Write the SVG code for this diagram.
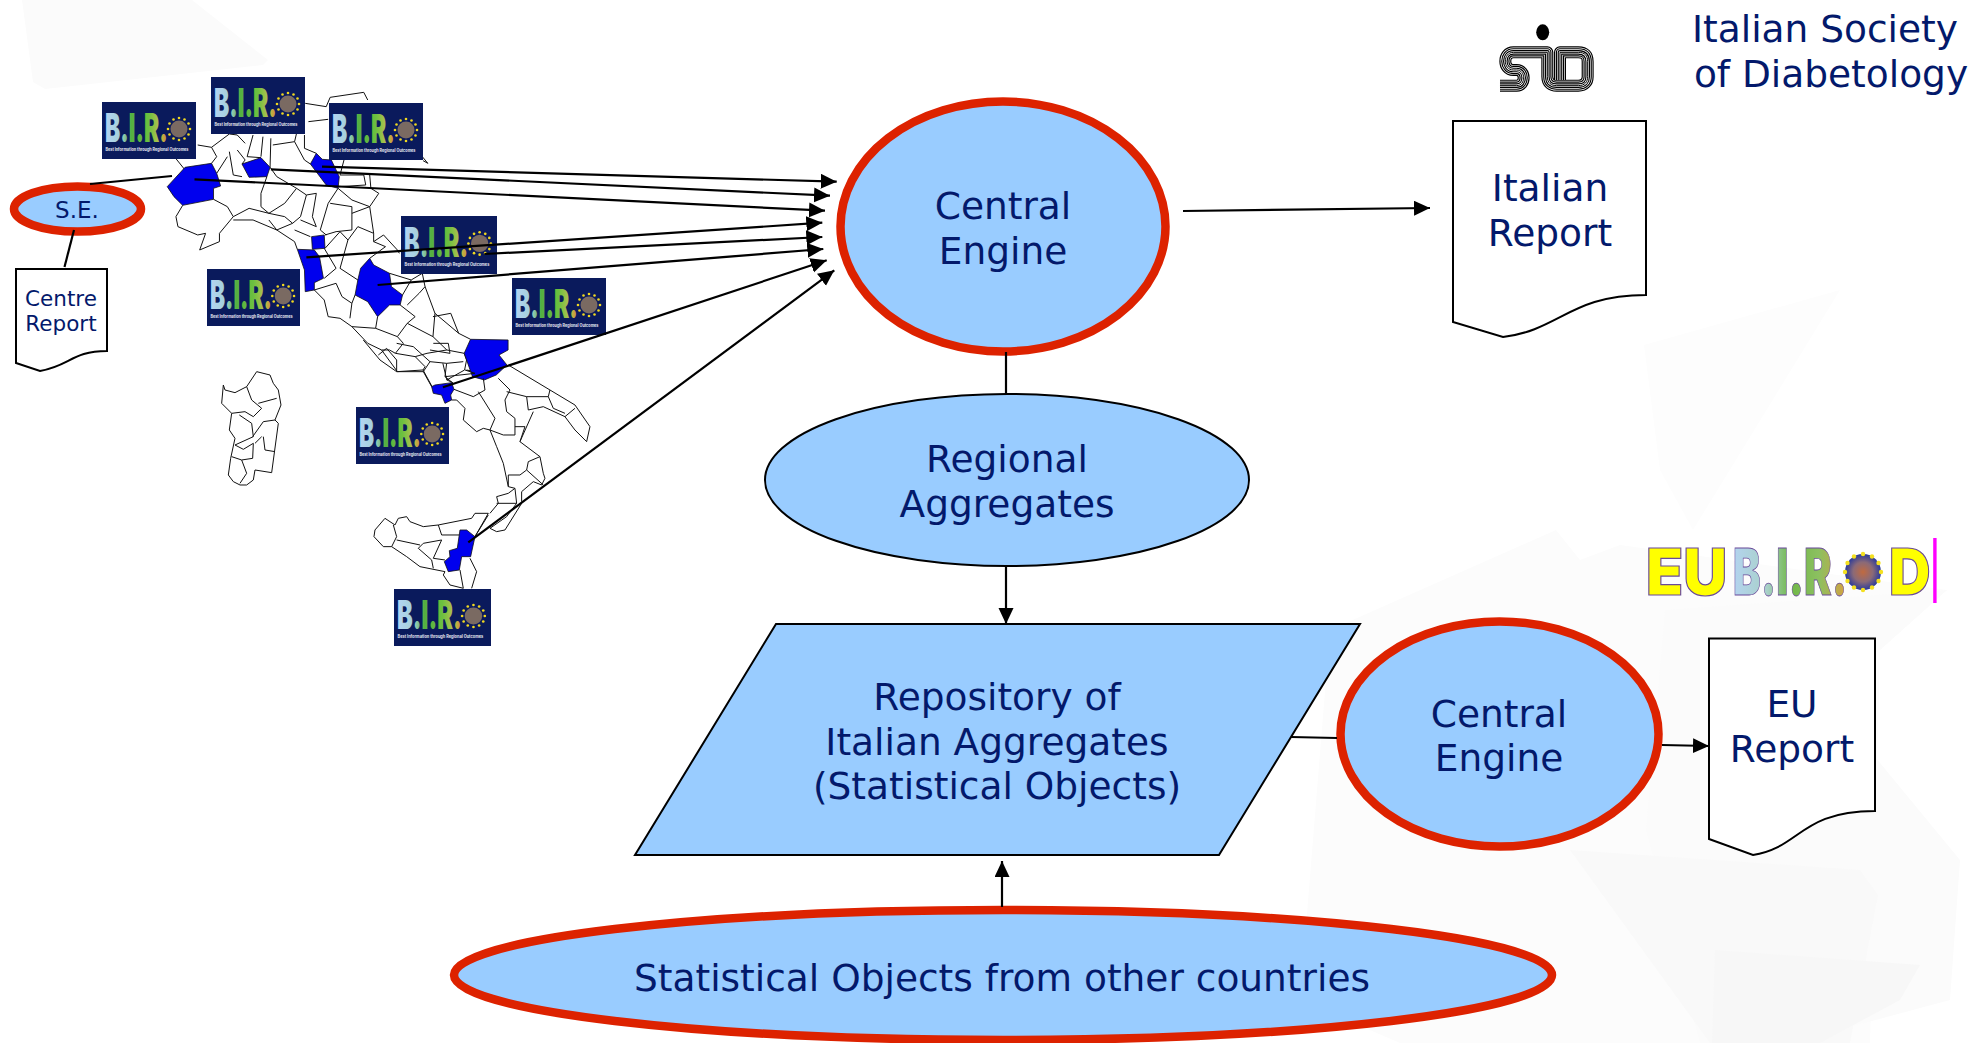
<svg xmlns="http://www.w3.org/2000/svg" width="1970" height="1043" viewBox="0 0 1970 1043">
<style>
text{font-family:"DejaVu Sans",sans-serif;fill:#03196b;text-anchor:middle}
.t37{font-size:37.5px}
.node{fill:#99ccff;stroke:#000;stroke-width:2}
.hot{fill:#99ccff;stroke:#dd2200;stroke-width:8.5}
.doc{fill:#fff;stroke:#000;stroke-width:2}
.conn{fill:none;stroke:#000;stroke-width:2.2}
.arr{marker-end:url(#ah)}
.bd{fill:none;stroke:#111;stroke-width:1;stroke-linejoin:round;vector-effect:non-scaling-stroke}
.rg{fill:#0000ee;stroke:#111;stroke-width:.8;vector-effect:non-scaling-stroke}
.logo{font-family:Inter,"Liberation Sans",Arial,sans-serif;font-weight:900;text-anchor:start}
.eu{fill:#ffff00;stroke:#6a4a9a;stroke-width:1.2}
</style>
<defs>
<marker id="ah" markerUnits="userSpaceOnUse" markerWidth="18" markerHeight="16" refX="16" refY="7.5" orient="auto"><path d="M0 0L16 7.5L0 15Z" fill="#000"/></marker>
<linearGradient id="bg1" gradientUnits="userSpaceOnUse" x1="0" y1="0" x2="95" y2="0"><stop offset="0" stop-color="#b4d4f4"/><stop offset=".25" stop-color="#a4d0d8"/><stop offset=".42" stop-color="#54b040"/><stop offset=".7" stop-color="#6cc040"/><stop offset=".87" stop-color="#b4c050"/><stop offset="1" stop-color="#d09030"/></linearGradient>
<linearGradient id="bg2" gradientUnits="userSpaceOnUse" x1="0" y1="0" x2="168" y2="0"><stop offset="0" stop-color="#b4d4f0"/><stop offset=".3" stop-color="#a8d0c8"/><stop offset=".5" stop-color="#70b848"/><stop offset=".75" stop-color="#8cc060"/><stop offset="1" stop-color="#d8a040"/></linearGradient>
<radialGradient id="core"><stop offset="0" stop-color="#c06a40"/><stop offset=".55" stop-color="#8a6a78"/><stop offset="1" stop-color="#2a3a9a"/></radialGradient>
<path id="sidp" d="M30 212H80C108 212 108 165 80 165H70C38 165 38 112 70 112H172V185C172 205 185 212 200 212H265C285 212 293 200 293 185V140C293 122 285 112 265 112H210V195"/>
<symbol id="biro" viewBox="0 0 94 57" preserveAspectRatio="none">
<rect width="94" height="57" fill="#0a1a5c"/>
<text class="logo" transform="translate(3,40) scale(.66,1)" font-size="40" textLength="95" lengthAdjust="spacingAndGlyphs" style="fill:url(#bg1)">B.I.R.</text>
<circle cx="77" cy="27" r="8.5" fill="#7a6a62"/>
<g fill="#f0d820">
<circle cx="77" cy="16" r="1.3"/><circle cx="82.5" cy="17.5" r="1.3"/><circle cx="86.5" cy="21.5" r="1.3"/><circle cx="88" cy="27" r="1.3"/><circle cx="86.5" cy="32.5" r="1.3"/><circle cx="82.5" cy="36.5" r="1.3"/><circle cx="77" cy="38" r="1.3"/><circle cx="71.5" cy="36.5" r="1.3"/><circle cx="67.5" cy="32.5" r="1.3"/><circle cx="66" cy="27" r="1.3"/><circle cx="67.5" cy="21.5" r="1.3"/><circle cx="71.5" cy="17.5" r="1.3"/>
</g>
<text class="logo" x="3.5" y="49" font-size="4.4" textLength="83" lengthAdjust="spacingAndGlyphs" style="fill:#e6e8f2;font-weight:700">Best Information through Regional Outcomes</text>
</symbol>
</defs>
<rect width="1970" height="1043" fill="#fff"/>
<g id="background">
<path d="M22 0H192L268 60L263 65L45 89L33 82Z" fill="#fbfbfb"/>
<path d="M1644 345L1840 290L1693 530L1660 470Z" fill="#fdfdfd"/>
<path d="M1330 630L1556 530L1580 560L1620 545L1947 590L1880 650L1870 1043H1400L1300 1000Z" fill="#fcfcfc"/>
<path d="M1646 830L1665 610L1947 590L1880 650L1820 690L1960 860L1950 1000L1790 1043H1700Z" fill="#fbfbfb"/>
<path d="M1570 850L1860 870L1878 895L1850 1043H1710Z" fill="#f9f9f9"/>
<path d="M1715 950L1920 965L1900 1000L1820 1043H1712Z" fill="#f7f7f7"/>
</g>
<g id="map">
<g transform="translate(0,60) scale(0.3954,0.3333)">
<path class="bd" d="M772 130L825 140L835 112L920 97L930 120M780 185L830 178M770 225L770 265L800 280M500 255L535 262L580 222L600 225L620 250M535 262L548 290L535 310M445 296L468 330M575 290L548 340M580 275L590 345L612 350M600 270L620 300L612 312M640 225L625 290L660 293M665 230L660 290M685 235L683 322M750 220L745 245L690 255M745 245L770 300L785 312M870 300L860 345L920 345L925 375L858 380M935 345L938 385L958 400L935 440L890 420L855 385M1068 290L1082 310L1070 302M683 322L700 350L750 385L775 405L800 400M675 350L660 400L660 440L680 460L720 430L750 385M775 405L760 470L740 490L720 470L680 460M800 400L790 470L800 500L760 480M855 385L830 430L810 510L825 525M835 430L890 440L890 510L850 515L822 525M890 460L935 440L945 520L905 500L880 540L860 515M540 418L575 440L590 470L630 445L680 460M462 436L445 470L450 500L500 525L520 520L505 570L555 545L555 520L590 470M590 480L640 480L700 510L745 545L752 568M680 480L700 510L740 490M745 510L785 530M822 565L860 515M820 565L850 625L820 655M860 625L905 660M880 540L860 625M945 520L945 545L970 525L1005 570L1010 580M945 545L975 560L935 595M985 640L1040 660L1068 640L1075 680L1100 760L1160 820L1190 838M1040 660L1018 705M1030 735L1060 700L1075 680M1012 735L1050 770L1030 790L1095 830L1100 760M1095 770L1140 760L1160 820M1095 830L1130 870L1174 880M795 690L820 720L830 770L860 775L890 800L930 850L965 870L1005 935L1070 930L1095 985M795 690L850 670L865 710L890 730L885 775M898 705L890 730M955 770L950 805L890 800M950 805L1005 830L1030 790M1005 830L1020 850L1000 880L1050 890L1080 880L1130 870M965 870L985 870L1000 880M1050 890L1075 920L1070 930M1120 910L1130 960L1145 968M1130 960L1175 930L1180 900L1174 880M1180 930L1200 935L1195 950"/>
<path class="rg" d="M423 380L468 322L535 310L548 340L558 378L540 385L540 418L462 436L440 410Z"/>
<path class="rg" d="M612 312L660 293L683 322L675 350L630 352Z"/>
<path class="rg" d="M785 312L800 280L815 298L838 300L858 350L855 385L825 375Z"/>
<path class="rg" d="M788 530L820 525L822 565L790 568Z"/>
<path class="rg" d="M752 568L795 570L808 590L818 655L795 668L795 690L772 695L770 630Z"/>
<path class="rg" d="M935 595L945 615L985 640L990 680L1018 705L1012 735L985 735L955 770L930 725L898 705L905 660L912 625Z"/>
<path class="rg" d="M1190 838L1285 840L1285 870L1262 885L1282 915L1255 945L1225 960L1195 950L1174 880Z"/>
</g>
<g transform="translate(200,340) scale(0.3333)">
<path class="bd" d="M925 75L1050 150L1125 195L1170 260L1160 305L1125 270L1095 230L1125 205M895 115L930 150L915 180L920 215L945 235L945 285L910 285L870 270L850 265L830 275L790 240L795 205L770 180L755 180M762 148L820 170L855 150L850 115M835 155L885 235L870 270M920 155L980 170L1045 170L1050 150M980 170L985 210L1030 200L1095 230M1045 170L1060 205L1095 220M1000 215L960 305L1020 350L1030 400L1035 415L1025 435L1000 425L965 455L965 485M945 260L975 260L960 305M870 270L890 320L910 370L925 440L945 445L950 490L920 530L870 565L890 575L915 570L965 490M925 405L960 405L980 390L1030 435M980 390L985 365L1020 350M945 445L925 460L890 470L895 490L870 520M925 440L925 405M890 490L950 490M490 0L540 60L590 95L670 95L690 65L740 70L790 65M670 95L695 140M740 70L735 110L760 130M795 90L825 100L735 110M590 10L640 20L690 65M535 45L560 25L590 60L590 95M690 30L750 40L745 10L700 10"/>
<path class="bd" d="M555 535L585 555L595 535L620 530L630 545L670 560L715 555L815 535L825 520L865 520L825 590M715 555L725 585L780 585M555 535L525 570L522 590L550 620L575 620L590 590L580 555M575 620L620 650L660 680L735 695L730 705L750 735L790 745L780 690M725 600L670 610L655 625L695 660L700 685M725 600L700 655L735 660M590 600L660 615M810 655L830 695L815 745M865 525L825 590"/>
<path class="bd" d="M70 135L65 190L95 220L88 270L105 295L92 355L85 405L100 425L120 435L140 435L160 420L165 390L215 398L235 250L225 240L243 195L235 150L220 130L210 105L170 95L140 140L105 158L75 150ZM140 140L155 180L185 205L160 230L135 215L95 220M175 190L230 175M118 225L155 250L160 290L105 315L130 328L160 310L158 355L125 360L95 350M158 290L190 245L225 240M190 290L195 330L225 335M165 310L185 290M125 360L140 400L120 430"/>
<path class="rg" d="M695 140L705 135L755 128L762 148L752 165L755 180L735 190L725 165L700 160Z"/>
<path class="rg" d="M780 570L800 570L825 590L812 650L785 650L778 690L745 695L733 665L750 650L748 632L772 625Z"/>
</g>
</g>
<g id="biro-logos">
<use href="#biro" x="102" y="102" width="94" height="57"/>
<use href="#biro" x="211" y="77" width="94" height="57"/>
<use href="#biro" x="329" y="103" width="94" height="57"/>
<use href="#biro" x="401" y="216" width="96" height="58"/>
<use href="#biro" x="207" y="269" width="93" height="57"/>
<use href="#biro" x="512" y="278" width="94" height="57"/>
<use href="#biro" x="356" y="407" width="93" height="57"/>
<use href="#biro" x="394" y="589" width="97" height="57"/>
</g>
<g id="se"><ellipse class="hot" cx="77.5" cy="209" rx="63.5" ry="22.5"/><text x="77" y="218" font-size="23">S.E.</text></g>
<g id="centre-report"><path class="doc" d="M16 269H107V351C72 351 70 366 40 371L16 363Z"/><text x="61" y="306" font-size="21.5">Centre</text><text x="61" y="331" font-size="21.5">Report</text></g>
<g id="central-engine"><ellipse class="hot" cx="1003" cy="226.5" rx="162.5" ry="125"/><text class="t37" x="1003" y="219">Central</text><text class="t37" x="1003" y="264">Engine</text></g>
<g id="regional-aggregates"><ellipse class="node" cx="1007" cy="480" rx="242" ry="86"/><text class="t37" x="1007" y="472">Regional</text><text class="t37" x="1007" y="517">Aggregates</text></g>
<g id="repository"><path class="node" d="M776 624H1360L1219 855H635Z"/><text class="t37" x="997" y="710">Repository of</text><text class="t37" x="997" y="755">Italian Aggregates</text><text class="t37" x="997" y="799">(Statistical Objects)</text></g>
<g id="central-engine-eu"><ellipse class="hot" cx="1499.5" cy="734" rx="159" ry="112.5"/><text class="t37" x="1499" y="727">Central</text><text class="t37" x="1499" y="771">Engine</text></g>
<g id="other-countries"><ellipse class="hot" cx="1003" cy="975" rx="549" ry="65"/><text class="t37" x="1002" y="991">Statistical Objects from other countries</text></g>
<g id="italian-report"><path class="doc" d="M1453 121H1646V295C1570 295 1560 330 1503 337L1453 322Z"/><text class="t37" x="1550" y="201">Italian</text><text class="t37" x="1550" y="246">Report</text></g>
<g id="eu-report"><path class="doc" d="M1709 638.5H1875V811C1800 811 1800 848 1753 855L1709 839Z"/><text class="t37" x="1792" y="717">EU</text><text class="t37" x="1792" y="762">Report</text></g>
<g id="sid"><ellipse cx="1542.7" cy="32.3" rx="6.5" ry="8" fill="#000"/>
<g transform="translate(1490,15) scale(.3333)" fill="none" stroke-linejoin="round"><use href="#sidp" stroke="#000" stroke-width="36"/><use href="#sidp" stroke="#fff" stroke-width="29"/><use href="#sidp" stroke="#000" stroke-width="25"/><use href="#sidp" stroke="#fff" stroke-width="18"/><use href="#sidp" stroke="#000" stroke-width="14"/><use href="#sidp" stroke="#fff" stroke-width="7"/><use href="#sidp" stroke="#000" stroke-width="3"/></g>
</g>
<g id="society"><text class="t37" x="1825" y="42">Italian Society</text><text class="t37" x="1831" y="87">of Diabetology</text></g>
<g id="eubirod">
<text class="logo eu" transform="translate(1646,595) scale(.72,1)" font-size="65" textLength="113" lengthAdjust="spacingAndGlyphs">EU</text>
<text class="logo" transform="translate(1733,595) scale(.68,1)" font-size="65" textLength="168" lengthAdjust="spacingAndGlyphs" style="fill:url(#bg2);stroke:#6a4a9a;stroke-width:.8">B.I.R.</text>
<circle cx="1863" cy="572" r="18" fill="url(#core)"/>
<g fill="#f4e020"><circle cx="1863" cy="554" r="2.2"/><circle cx="1872" cy="556.5" r="2.2"/><circle cx="1878.5" cy="563" r="2.2"/><circle cx="1881" cy="572" r="2.2"/><circle cx="1878.5" cy="581" r="2.2"/><circle cx="1872" cy="587.5" r="2.2"/><circle cx="1863" cy="590" r="2.2"/><circle cx="1854" cy="587.5" r="2.2"/><circle cx="1847.5" cy="581" r="2.2"/><circle cx="1845" cy="572" r="2.2"/><circle cx="1847.5" cy="563" r="2.2"/><circle cx="1854" cy="556.5" r="2.2"/></g>
<text class="logo eu" transform="translate(1889,595) scale(.85,1)" font-size="65" textLength="49" lengthAdjust="spacingAndGlyphs">D</text>
<rect x="1933.2" y="538" width="3.4" height="65" fill="#ff00ff"/>
</g>
<g id="connectors">
<line class="conn arr" x1="322" y1="166.7" x2="836.7" y2="181.7"/>
<line class="conn arr" x1="270.9" y1="169.3" x2="830" y2="195.7"/>
<line class="conn arr" x1="194.5" y1="179.3" x2="825" y2="210.7"/>
<line class="conn arr" x1="306.4" y1="257.3" x2="822.3" y2="222.7"/>
<line class="conn arr" x1="484.4" y1="254" x2="822.3" y2="237"/>
<line class="conn arr" x1="377.6" y1="285" x2="823.3" y2="249"/>
<line class="conn arr" x1="442.9" y1="387.3" x2="826.7" y2="260.3"/>
<line class="conn arr" x1="468.3" y1="542.3" x2="834.3" y2="270.3"/>
<line class="conn" x1="90" y1="184" x2="172" y2="176"/>
<line class="conn" x1="74" y1="230" x2="64.5" y2="267"/>
<line class="conn arr" x1="1183" y1="211" x2="1430" y2="208"/>
<line class="conn" x1="1006" y1="352" x2="1006" y2="394"/>
<line class="conn arr" x1="1006" y1="566" x2="1006" y2="624"/>
<line class="conn" x1="1291" y1="737" x2="1337" y2="738"/>
<line class="conn arr" x1="1662" y1="745" x2="1709" y2="746"/>
<line class="conn arr" x1="1002" y1="907" x2="1002" y2="861"/>
</g>
</svg>
